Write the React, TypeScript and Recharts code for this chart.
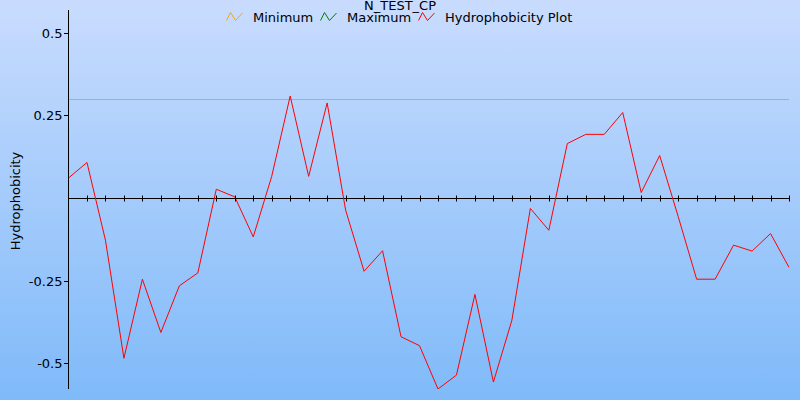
import { LineChart, Line, XAxis, YAxis, ReferenceLine, ReferenceDot } from "recharts";

// residue positions along the sequence window
const positions = Array.from({ length: 40 }, (_, i) => i);

const hydrophobicity = [
  0.062, 0.109, -0.126, -0.483, -0.244, -0.405, -0.264, -0.225, 0.028, 0.005,
  -0.116, 0.067, 0.31, 0.067, 0.289, -0.035, -0.22, -0.158, -0.418, -0.445,
  -0.576, -0.534, -0.29, -0.555, -0.368, -0.03, -0.096, 0.166, 0.194, 0.194,
  0.26, 0.018, 0.13, -0.054, -0.244, -0.244, -0.141, -0.159, -0.106, -0.208,
];

const minimumLevel = 0.3;
const yTicks = [-0.5, -0.25, 0.25, 0.5];
const xTickMarks = positions.slice(1);

const legendItems = [
  { label: "Minimum", color: "#ffa500" },
  { label: "Maximum", color: "#008000" },
  { label: "Hydrophobicity Plot", color: "#ff0000" },
];

const data = positions.map((p, i) => ({ pos: p, value: hydrophobicity[i] }));

const FONT = "'DejaVu Sans', sans-serif";

function TickMark(props: any) {
  const { cx, cy } = props;
  const x = Math.round(cx) + 0.5;
  return <line x1={x} x2={x} y1={cy - 3} y2={cy + 3} stroke="#000" strokeWidth={1} />;
}

// legend x positions taken from the reference layout
const legendX = [226, 320, 418];

export default function App() {
  return (
    <div
      style={{
        position: "fixed",
        left: 0,
        top: 0,
        width: 800,
        height: 400,
        background: "linear-gradient(to bottom, #c9dcfe, #7fbaf9)",
      }}
    >
      <LineChart width={800} height={400} data={data} margin={{ top: 10, right: 11, bottom: 11, left: 0 }}>
        <XAxis dataKey="pos" type="number" domain={[0, 39]} hide />
        <YAxis
          width={68.5}
          domain={[-0.576, 0.57]}
          ticks={yTicks}
          tickSize={5}
          tickMargin={1}
          tickFormatter={(v) => String(v)}
          tick={{ fill: "#000", fontSize: 13, fontFamily: FONT }}
          axisLine={{ stroke: "#000", shapeRendering: "crispEdges" }}
          tickLine={{ stroke: "#000", shapeRendering: "crispEdges" }}
          allowDataOverflow
        />
        <ReferenceLine y={0} stroke="#000" strokeWidth={1} shapeRendering="crispEdges" />
        {xTickMarks.map((t) => (
          <ReferenceDot key={t} x={t} y={0} r={0} shape={TickMark} />
        ))}
        <ReferenceLine y={minimumLevel} stroke="#f0a332" strokeWidth={1} shapeRendering="crispEdges" />
        <Line
          type="linear"
          dataKey="value"
          stroke="#ff0000"
          strokeWidth={1}
          dot={false}
          isAnimationActive={false}
        />
      </LineChart>
      <svg
        width={800}
        height={400}
        style={{ position: "absolute", left: 0, top: 0, pointerEvents: "none" }}
        fontFamily={FONT}
        fontSize={13}
      >
        <text x={400} y={9.5} textAnchor="middle" fill="#000">
          N_TEST_CP
        </text>
        {legendItems.map((item, i) => (
          <g key={item.label} transform={`translate(${legendX[i]},0)`}>
            <polyline
              points="0.5,20.5 4.5,12.5 9.5,20.5 16.5,13"
              fill="none"
              stroke={item.color}
              strokeWidth={1}
            />
            <text x={27} y={22.3} fill="#000">
              {item.label}
            </text>
          </g>
        ))}
        <text x={20} y={201} transform="rotate(-90 20 201)" textAnchor="middle" fill="#000">
          Hydrophobicity
        </text>
      </svg>
    </div>
  );
}
